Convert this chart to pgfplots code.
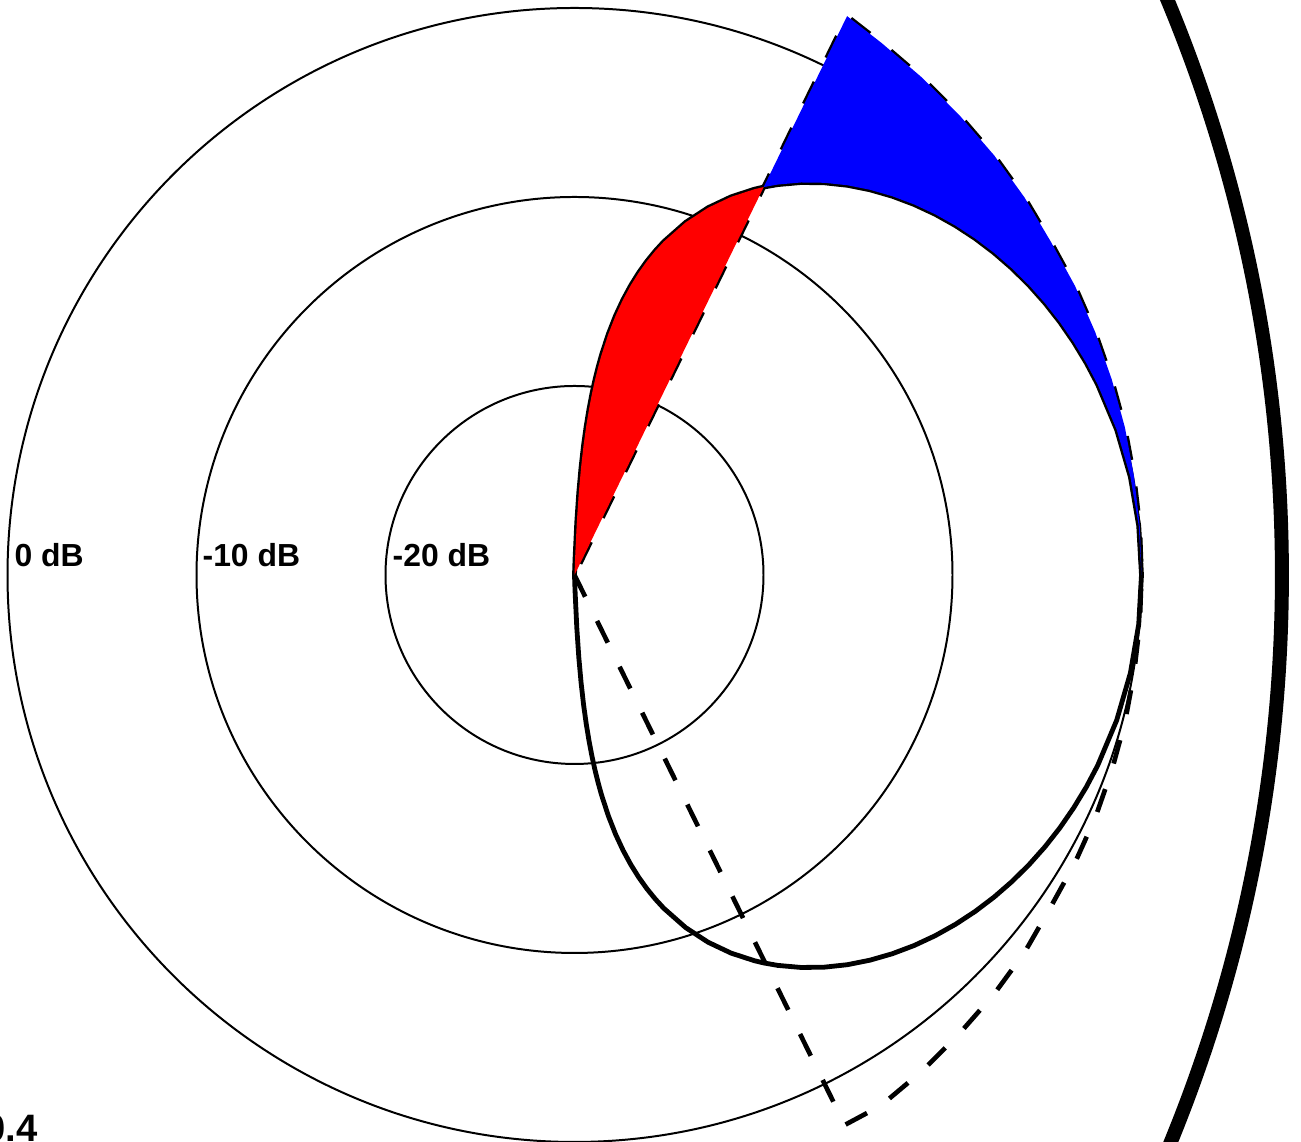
\documentclass[border=0pt]{standalone}
\usepackage{fontspec}
\setmainfont{Liberation Sans}
\usepackage{pgfplots}
\pgfplotsset{compat=1.18}
\begin{document}
\begin{tikzpicture}
\begin{axis}[x=0.2cm, y=0.2cm, xmin=-30.397, xmax=38.439, ymin=-30.0, ymax=30.423,
  hide axis, clip=true]
% grid circles (-20, -10, 0 dB)
\draw[black, line width=0.6pt] (axis cs:0,0) circle[radius=10];
\draw[black, line width=0.6pt] (axis cs:0,0) circle[radius=20];
\draw[black, line width=0.6pt] (axis cs:0,0) circle[radius=30];
% thick outer arc
\draw[black, line width=4.2pt] (axis cs:-41.77,0) circle[radius=79.2];
% achieved pattern (solid)
\addplot[black, line width=1.45pt, line join=round] coordinates {
(0,0) (0.030,-0.855) (0.122,-2.791) (0.229,-4.374) (0.349,-5.703) (0.479,-6.855)
(0.619,-7.869) (0.768,-8.773) (0.923,-9.588) (1.086,-10.328) (1.254,-11.006)
(1.428,-11.631) (1.791,-12.746) (2.172,-13.716) (2.569,-14.568) (2.979,-15.325)
(3.401,-16.001) (3.834,-16.605) (4.276,-17.148) (4.726,-17.638) (5.883,-18.658)
(7.073,-19.434) (8.288,-20.008) (9.517,-20.409) (10.011,-20.526) (10.753,-20.657)
(11.990,-20.767) (13.220,-20.751) (14.438,-20.620) (15.638,-20.380) (16.816,-20.040)
(17.966,-19.607) (19.085,-19.085) (20.167,-18.479) (21.208,-17.796) (22.205,-17.039)
(23.155,-16.213) (24.054,-15.324) (24.899,-14.376) (25.687,-13.372) (26.414,-12.317)
(27.081,-11.217) (27.683,-10.076) (28.687,-7.687) (29.413,-5.186) (29.853,-2.612)
(30,0)
(29.853,2.612) (29.413,5.186) (28.687,7.687) (27.683,10.076) (27.081,11.217)
(26.414,12.317) (25.687,13.372) (24.899,14.376) (24.054,15.324) (23.155,16.213)
(22.205,17.039) (21.208,17.796) (20.167,18.479) (19.085,19.085) (17.966,19.607)
(16.816,20.040) (15.638,20.380) (14.438,20.620) (13.220,20.751) (11.990,20.767)
(10.753,20.657) (10.011,20.526) (9.517,20.409) (8.288,20.008) (7.073,19.434)
(5.883,18.658) (4.726,17.638) (4.276,17.148) (3.834,16.605) (3.401,16.001)
(2.979,15.325) (2.569,14.568) (2.172,13.716) (1.791,12.746) (1.428,11.631)
(1.254,11.006) (1.086,10.328) (0.923,9.588) (0.768,8.773) (0.619,7.869)
(0.479,6.855) (0.349,5.703) (0.229,4.374) (0.122,2.791) (0.030,0.855) (0,0)
};
% desired sector mask (dashed)
\addplot[black, line width=1.4pt, dash pattern=on 7.3pt off 8.1pt] coordinates {
(0,0) (14.30,-29.10) (16.210,-28.077) (18.383,-26.254) (20.363,-24.268)
(22.189,-22.189) (23.808,-19.978) (25.164,-17.620) (26.457,-15.275) (27.552,-12.848)
(28.426,-10.346) (29.123,-7.803) (29.603,-5.220) (29.906,-2.616) (30,0)
(29.906,2.616) (29.603,5.220) (29.123,7.803) (28.426,10.346) (27.552,12.848)
(26.483,15.290) (25.197,17.643) (23.808,19.978) (22.203,22.203) (20.389,24.299)
(18.412,26.295) (16.25,28.146) (14.422,29.570) (0,0)
};
% blue: mask above pattern
\addplot[fill=blue, draw=none] coordinates {
(30,0) (29.906,2.616) (29.603,5.220) (29.123,7.803) (28.426,10.346) (27.552,12.848)
(26.483,15.290) (25.197,17.643) (23.808,19.978) (22.203,22.203) (20.389,24.299)
(18.412,26.295) (16.25,28.146) (14.422,29.570)
(10.011,20.526) (10.753,20.657) (11.990,20.767) (13.220,20.751) (14.438,20.620)
(15.638,20.380) (16.816,20.040) (17.966,19.607) (19.085,19.085) (20.167,18.479)
(21.208,17.796) (22.205,17.039) (23.155,16.213) (24.054,15.324) (24.899,14.376)
(25.687,13.372) (26.414,12.317) (27.081,11.217) (27.683,10.076) (28.687,7.687)
(29.413,5.186) (29.853,2.612) (30,0)
} -- cycle;
% red: pattern outside sector
\addplot[fill=red, draw=none] coordinates {
(0,0) (10.011,20.526) (9.517,20.409) (8.288,20.008) (7.073,19.434) (5.883,18.658)
(4.726,17.638) (4.276,17.148) (3.834,16.605) (3.401,16.001) (2.979,15.325)
(2.569,14.568) (2.172,13.716) (1.791,12.746) (1.428,11.631) (1.254,11.006)
(1.086,10.328) (0.923,9.588) (0.768,8.773) (0.619,7.869) (0.479,6.855)
(0.349,5.703) (0.229,4.374) (0.122,2.791) (0.030,0.855) (0,0)
} -- cycle;
% labels
\node[anchor=base west, inner sep=0pt, font=\fontsize{9.6}{11}\selectfont\bfseries] at (axis cs:-29.656,0.45) {0 dB};
\node[anchor=base west, inner sep=0pt, font=\fontsize{9.6}{11}\selectfont\bfseries] at (axis cs:-19.71,0.45) {-10 dB};
\node[anchor=base west, inner sep=0pt, font=\fontsize{9.6}{11}\selectfont\bfseries] at (axis cs:-9.656,0.45) {-20 dB};
\node[anchor=base east, inner sep=0pt, font=\fontsize{11.5}{13}\selectfont\bfseries] at (axis cs:-28.39,-29.95) {0.4};
\end{axis}
\pgfresetboundingbox
\path[use as bounding box] (current axis.south west) rectangle (current axis.north east);
\end{tikzpicture}
\end{document}
